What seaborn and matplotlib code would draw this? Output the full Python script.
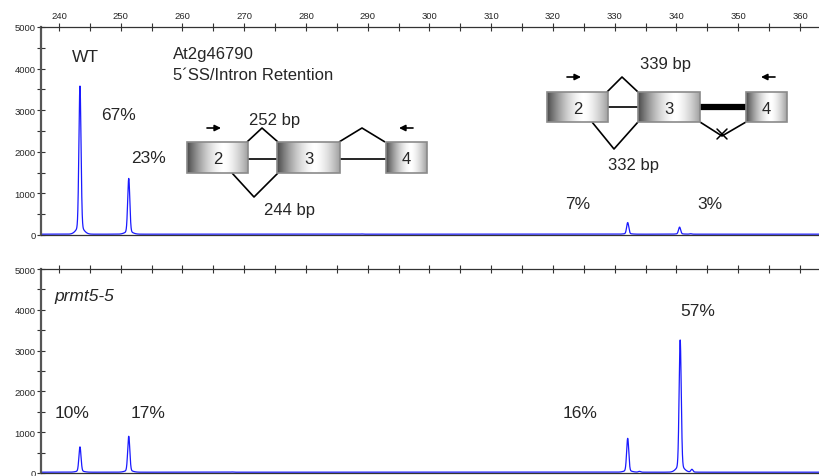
import numpy as np
import pandas as pd
import matplotlib
matplotlib.use("Agg")
import matplotlib.pyplot as plt
import seaborn as sns

sns.set_style("white")
plt.rcParams["font.family"] = ["Liberation Sans", "DejaVu Sans"]

# Capillary electrophoresis peaks (fragment size in bp, signal height)
wt_sizes = [243.4, 251.3, 332.1, 340.5]
wt_heights = [3580, 1360, 300, 190]
wt_pct = ["67%", "23%", "7%", "3%"]

mut_sizes = [243.4, 251.3, 332.1, 340.6]
mut_heights = [640, 900, 850, 3260]
mut_pct = ["10%", "17%", "16%", "57%"]

# small background blips
wt_minor_sizes = [289.0, 334.0, 342.3]
wt_minor_heights = [25, 20, 30]
mut_minor_sizes = [268.0, 279.0, 334.0, 342.5]
mut_minor_heights = [25, 20, 40, 90]

x_ticks = list(range(240, 361, 10))
y_ticks = [0, 1000, 2000, 3000, 4000, 5000]

XMIN, XMAX = 237.09, 363.08
W, H = 819, 477
BASELINE = 20.0


def trace(sizes, heights, minor_sizes, minor_heights, width=0.17):
    x = np.linspace(XMIN, XMAX, 12000)
    y = np.full_like(x, BASELINE)
    for s, h in zip(list(sizes) + list(minor_sizes), list(heights) + list(minor_heights)):
        amp = h - BASELINE
        y += 0.95 * amp * np.exp(-0.5 * ((x - s) / width) ** 2)
        y += 0.05 * amp * np.exp(-0.5 * ((x - s) / (width * 3.5)) ** 2)
    return pd.DataFrame({"size": x, "signal": y})


fig = plt.figure(figsize=(W / 100, H / 100), dpi=100)


def px_rect(x0, y0, x1, y1):
    return [x0 / W, 1 - y1 / H, (x1 - x0) / W, (y1 - y0) / H]


ax_top = fig.add_axes(px_rect(41, 28, 819, 236))
ax_bot = fig.add_axes(px_rect(41, 270, 819, 474))

for ax, df in [
    (ax_top, trace(wt_sizes, wt_heights, wt_minor_sizes, wt_minor_heights)),
    (ax_bot, trace(mut_sizes, mut_heights, mut_minor_sizes, mut_minor_heights)),
]:
    sns.lineplot(data=df, x="size", y="signal", ax=ax, color="#1a1aff",
                 linewidth=0.9, estimator=None, sort=False)
    ax.set_xlim(XMIN, XMAX)
    ax.set_ylim(0, 5000)
    ax.set_xlabel("")
    ax.set_ylabel("")
    ax.set_xticks(x_ticks)
    ax.set_xticks(np.arange(245, 361, 10), minor=True)
    ax.set_yticks(y_ticks)
    ax.set_yticks(np.arange(500, 5000, 1000), minor=True)
    ax.tick_params(axis="y", which="both", direction="inout", length=6,
                   width=0.8, color="#333333", labelsize=6.8, pad=1,
                   left=True)
    ax.tick_params(axis="x", which="both", direction="inout", length=6,
                   width=0.8, color="#333333", labelsize=6.8, pad=2,
                   bottom=False, top=True, labelbottom=False)
    ax.xaxis.set_ticks_position("top")
    for side in ["top", "bottom"]:
        ax.spines[side].set_visible(True)
        ax.spines[side].set_color("#333333")
        ax.spines[side].set_linewidth(0.9)
    ax.spines["left"].set_color("#555555")
    ax.spines["left"].set_linewidth(1.6)
    ax.spines["right"].set_visible(False)
    ax.patch.set_alpha(0)

ax_top.tick_params(axis="x", labeltop=True)
ax_bot.tick_params(axis="x", labeltop=False)

# overlay in pixel coordinates for annotations and gene diagrams
ov = fig.add_axes([0, 0, 1, 1])
ov.set_xlim(0, W)
ov.set_ylim(H, 0)
ov.axis("off")
ov.patch.set_alpha(0)

fs = 12.5
ov.text(72, 57, "WT", fontsize=fs, va="center")
ov.text(173, 55, "At2g46790", fontsize=12, va="center")
ov.text(173, 76, "5\u00b4SS/Intron Retention", fontsize=12, va="center")
ov.text(54, 297, "prmt5-5", fontsize=fs, va="center", style="italic")

wt_label_pos = [(101, 116), (131, 159), (565, 205), (697, 205)]
mut_label_pos = [(55, 414), (131, 414), (563, 414), (680, 312)]
for (lx, ly), t in zip(wt_label_pos, wt_pct):
    ov.text(lx, ly, t, fontsize=fs, va="center")
for (lx, ly), t in zip(mut_label_pos, mut_pct):
    ov.text(lx, ly, t, fontsize=fs, va="center")

grad = np.linspace(0, 1, 200)
shade = 1 - np.clip(np.abs(grad - 0.6) / 0.6, 0, 1) ** 1.6
cmap = matplotlib.colors.LinearSegmentedColormap.from_list("g", ["#4a4a4a", "#ffffff"])


def exon(x0, x1, y0, y1, label):
    ov.imshow(shade[None, :], extent=(x0, x1, y1, y0), cmap=cmap, vmin=0, vmax=1,
              aspect="auto", zorder=3, interpolation="bilinear")
    ov.add_patch(plt.Rectangle((x0, y0), x1 - x0, y1 - y0, fill=False,
                               edgecolor="#8a8a8a", linewidth=1.2, zorder=4))
    ov.text((x0 + x1) / 2, (y0 + y1) / 2 + 1, label, fontsize=12,
            ha="center", va="center", zorder=5)


def seg(xs, ys, lw=1.2):
    ov.plot(xs, ys, color="black", linewidth=lw, zorder=2, solid_capstyle="butt")


def arrow(x0, x1, y):
    ov.annotate("", xy=(x1, y), xytext=(x0, y),
                arrowprops=dict(arrowstyle="-|>", color="black", lw=1.2,
                                mutation_scale=9, shrinkA=0, shrinkB=0))


# left diagram (244 / 252 bp products)
ov.set_autoscale_on(False)
exon(187, 248, 143, 174, "2")
exon(277, 340, 143, 174, "3")
exon(386, 427, 143, 174, "4")
seg([248, 277], [160, 160])
seg([340, 386], [160, 160])
seg([247, 262, 278], [143, 129, 143])
seg([339, 362, 385], [143, 129, 143])
seg([232, 254, 278], [174, 198, 174])
arrow(207, 221, 129)
arrow(413, 399, 129)
ov.text(275, 121, "252 bp", fontsize=12, ha="center", va="center")
ov.text(289, 211, "244 bp", fontsize=12, ha="center", va="center")

# right diagram (332 / 339 bp products, retained intron)
exon(547, 608, 93, 123, "2")
exon(638, 700, 93, 123, "3")
exon(746, 787, 93, 123, "4")
seg([608, 638], [108, 108])
seg([700, 746], [108, 108], lw=4.5)
seg([607, 622, 638], [93, 78, 93])
seg([592, 614, 638], [123, 150, 123])
seg([700, 722, 746], [123, 137, 123])
ov.plot([717, 727], [130, 140], color="black", linewidth=1.1, zorder=3)
ov.plot([717, 727], [140, 130], color="black", linewidth=1.1, zorder=3)
arrow(567, 581, 78)
arrow(775, 761, 78)
ov.text(665, 65, "339 bp", fontsize=12, ha="center", va="center")
ov.text(633, 166, "332 bp", fontsize=12, ha="center", va="center")

fig.savefig("out.png", dpi=100)
